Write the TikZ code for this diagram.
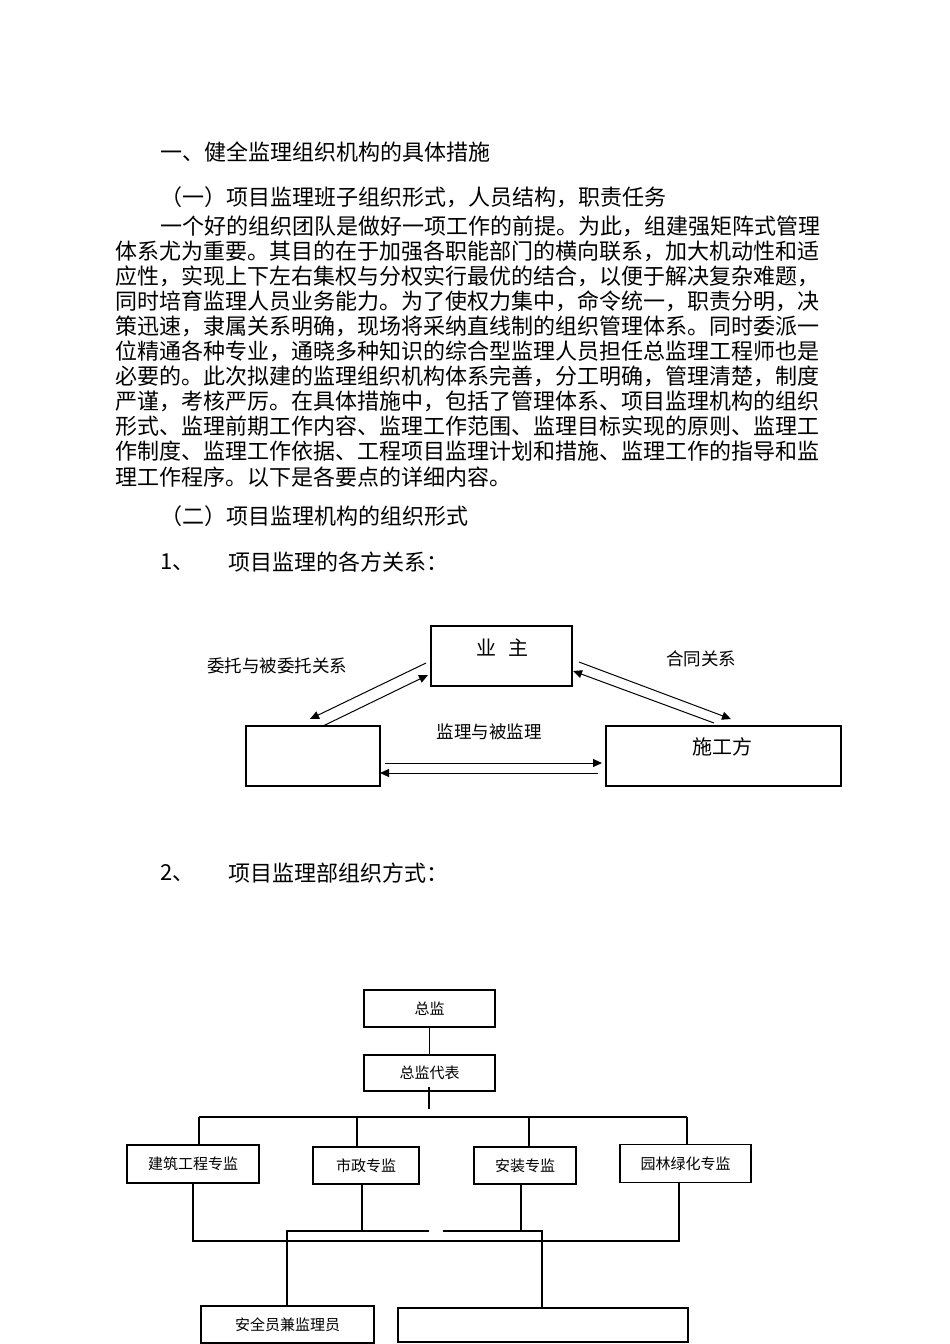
\documentclass[tikz,border=0pt]{standalone}
\usepackage{fontspec}
\setmainfont{Noto Sans CJK SC}
\usetikzlibrary{arrows.meta}
\begin{document}
\begin{tikzpicture}[x=1pt,y=-1pt,line width=1.1pt,
  body/.style={anchor=west,inner sep=0pt,font=\fontsize{22pt}{22pt}\selectfont},
  lab/.style={inner sep=0pt,font=\fontsize{17.5pt}{18pt}\selectfont},
  sm/.style={inner sep=0pt,font=\fontsize{15pt}{15pt}\selectfont},
  bx/.style={draw,line width=1.1pt},
  arr/.style={-{Triangle[length=9pt,width=8pt]},line width=1pt}]
\useasboundingbox (0,0) rectangle (950,1344);
\fill[white] (0,0) rectangle (950,1344);
% text
\node[body] (h1) at (160,152) {一、健全监理组织机构的具体措施};
\node[body] (h2) at (160,197) {（一）项目监理班子组织形式，人员结构，职责任务};
\node[body] (t1) at (160,226) {一个好的组织团队是做好一项工作的前提。为此，组建强矩阵式管理};
\node[body] (t2) at (115,251) {体系尤为重要。其目的在于加强各职能部门的横向联系，加大机动性和适};
\node[body] (t3) at (115,276) {应性，实现上下左右集权与分权实行最优的结合，以便于解决复杂难题，};
\node[body] (t4) at (115,301) {同时培育监理人员业务能力。为了使权力集中，命令统一，职责分明，决};
\node[body] (t5) at (115,326) {策迅速，隶属关系明确，现场将采纳直线制的组织管理体系。同时委派一};
\node[body] (t6) at (115,351) {位精通各种专业，通晓多种知识的综合型监理人员担任总监理工程师也是};
\node[body] (t7) at (115,376) {必要的。此次拟建的监理组织机构体系完善，分工明确，管理清楚，制度};
\node[body] (t8) at (115,401) {严谨，考核严厉。在具体措施中，包括了管理体系、项目监理机构的组织};
\node[body] (t9) at (115,426) {形式、监理前期工作内容、监理工作范围、监理目标实现的原则、监理工};
\node[body] (t10) at (115,451) {作制度、监理工作依据、工程项目监理计划和措施、监理工作的指导和监};
\node[body] (t11) at (115,477) {理工作程序。以下是各要点的详细内容。};
\node[body] (h3) at (160,516) {（二）项目监理机构的组织形式};
\node[body] (n1) at (160,562) {1、};
\node[body] (s1) at (228,562) {项目监理的各方关系：};
\node[body] (n2) at (160,873) {2、};
\node[body] (s2) at (228,873) {项目监理部组织方式：};
% diagram 1
\draw[bx] (431,626) rectangle (572,686);
\draw[bx] (246,726) rectangle (380,786);
\draw[bx] (606,726) rectangle (841,786);
\node[lab,font=\fontsize{20pt}{20pt}\selectfont] (yz) at (502,648) {业\hspace{0.6em}主};
\node[lab,font=\fontsize{20pt}{20pt}\selectfont] (sg) at (722,747) {施工方};
\node[lab] (l1) at (277,666) {委托与被委托关系};
\node[lab] (l2) at (701,659) {合同关系};
\node[lab] (l3) at (489,732) {监理与被监理};
\coordinate (a1) at (426,663); \coordinate (a2) at (310,719);
\coordinate (b1) at (323,726); \coordinate (b2) at (428,675);
\coordinate (c1) at (579,662); \coordinate (c2) at (731,719);
\coordinate (d1) at (714,723); \coordinate (d2) at (573,671);
\coordinate (e1) at (385,763); \coordinate (e2) at (602,763);
\coordinate (f1) at (598,773); \coordinate (f2) at (380,773);
\draw[arr] (a1) -- (a2);
\draw[arr] (b1) -- (b2);
\draw[arr] (c1) -- (c2);
\draw[arr] (d1) -- (d2);
\draw[arr] (e1) -- (e2);
\draw[arr] (f1) -- (f2);
% diagram 2
\node[bx,sm,minimum width=131pt,minimum height=37pt] (zj) at (429.5,1008.5) {总监};
\node[bx,sm,minimum width=131pt,minimum height=36pt] (zjdb) at (429.5,1073) {总监代表};
\node[bx,sm,minimum width=132pt,minimum height=38pt] (jz) at (193,1164) {建筑工程专监};
\node[bx,sm,minimum width=106pt,minimum height=37pt] (sz) at (366,1165.5) {市政专监};
\node[bx,sm,minimum width=102pt,minimum height=37pt] (az) at (525,1165.5) {安装专监};
\node[bx,sm,minimum width=131pt,minimum height=38pt] (yl) at (685.5,1163.5) {园林绿化专监};
\node[bx,sm,minimum width=173pt,minimum height=37pt] (aq) at (287.5,1324.5) {安全员兼监理员};
\node[bx,sm,minimum width=290pt,minimum height=34pt] (kb) at (543,1325) {};
\draw (zj) -- (zjdb);
\draw (429,1087) -- (429,1109);
\draw (199,1117) -- (687,1117);
\draw (199,1117) -- (199,1145);
\draw (357,1117) -- (357,1147);
\draw (529,1117) -- (529,1147);
\draw (687,1117) -- (687,1145);
\draw (193,1183) -- (193,1241) -- (679,1241) -- (679,1183);
\draw (362,1184) -- (362,1231);
\draw (521,1184) -- (521,1231);
\draw (287,1306) -- (287,1231) -- (429,1231);
\draw (443,1231) -- (542,1231) -- (542,1308);
\end{tikzpicture}
\end{document}
